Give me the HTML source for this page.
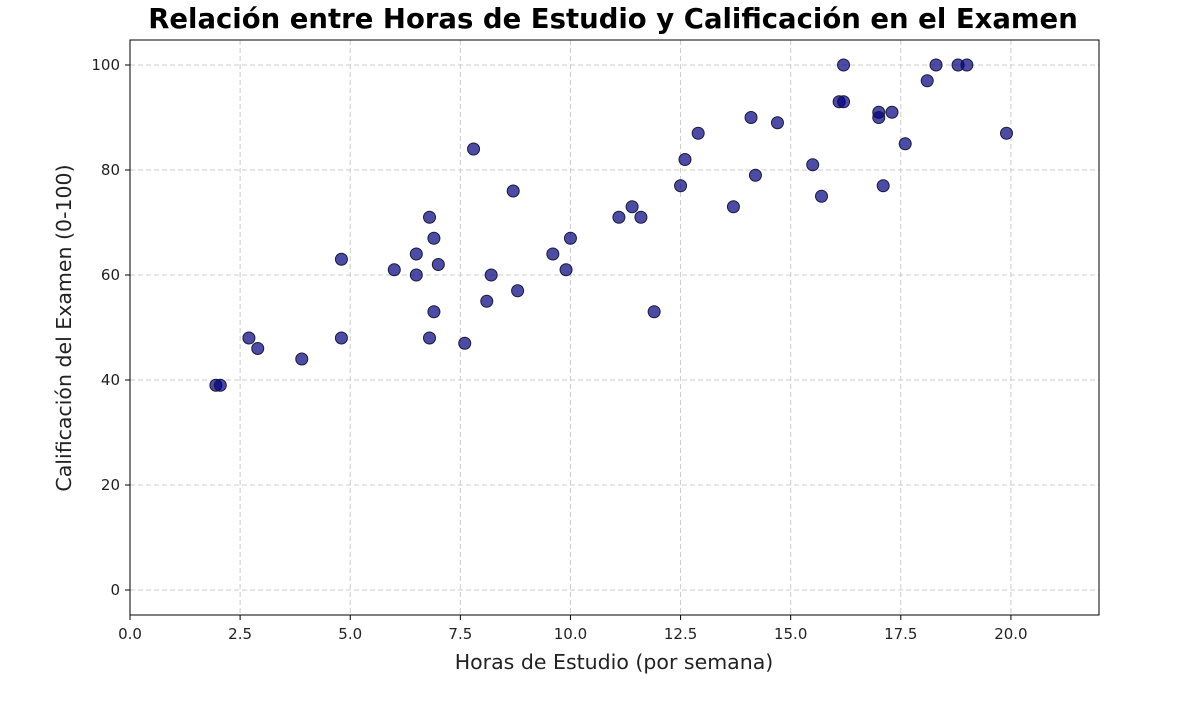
<!DOCTYPE html>
<html><head><meta charset="utf-8"><style>
body{margin:0;background:#fff;width:1186px;height:697px;overflow:hidden}
text{font-family:"DejaVu Sans","Liberation Sans",sans-serif;fill:#222}
</style></head><body>
<svg id="chart" width="1186" height="697" xmlns="http://www.w3.org/2000/svg">
<text x="613" y="28" text-anchor="middle" font-size="27.5" font-weight="bold" style="fill:#000">Relación entre Horas de Estudio y Calificación en el Examen</text>
<g id="grid"></g><g id="points"></g><g id="ticks"></g>
<rect x="130" y="40" width="969" height="575" fill="none" stroke="#000" stroke-width="1"/>
<text x="614" y="669" text-anchor="middle" font-size="20.5">Horas de Estudio (por semana)</text>
<text transform="translate(71,328) rotate(-90)" text-anchor="middle" font-size="20.5">Calificación del Examen (0-100)</text>
</svg>
<script>
const hours=[1.95,2.05,2.7,2.9,3.9,4.8,4.8,6.0,6.5,6.5,6.8,6.9,7.0,6.9,6.8,7.6,7.8,8.1,8.2,8.7,8.8,9.6,9.9,10.0,11.1,11.4,11.6,11.9,12.5,12.6,12.9,13.7,14.1,14.2,14.7,15.5,15.7,16.1,16.2,16.2,17.0,17.0,17.1,17.3,17.6,18.1,18.3,18.8,19.0,19.9];
const scores=[39,39,48,46,44,63,48,61,64,60,71,67,62,53,48,47,84,55,60,76,57,64,61,67,71,73,71,53,77,82,87,73,90,79,89,81,75,93,93,100,91,90,77,91,85,97,100,100,100,87];
const xTicks=[0,2.5,5,7.5,10,12.5,15,17.5,20];
const yTicks=[0,20,40,60,80,100];
const NS="http://www.w3.org/2000/svg";
const X0=130,X1=1099,Y0=615,Y1=40,xmin=0,xmax=22,ymin=-4.76,ymax=104.76;
const sx=v=>X0+(v-xmin)/(xmax-xmin)*(X1-X0);
const sy=v=>Y0-(v-ymin)/(ymax-ymin)*(Y0-Y1);
const mk=(t,a)=>{const e=document.createElementNS(NS,t);for(const k in a)e.setAttribute(k,a[k]);return e;};
const grid=document.getElementById('grid'),ticks=document.getElementById('ticks'),pts=document.getElementById('points');
xTicks.forEach(v=>{const x=sx(v);
 const g=mk('line',{x1:x,x2:x,y1:Y1,y2:Y0,stroke:'#ccc','stroke-dasharray':'5,3'});
 
 grid.appendChild(g);
 const t=mk('line',{x1:x,x2:x,y1:Y0,y2:Y0+5,stroke:'#000'});
 
 ticks.appendChild(t);
 const l=mk('text',{x:x,y:Y0+24,'text-anchor':'middle','font-size':'15'});l.textContent=v.toFixed(1);
 
 ticks.appendChild(l);});
yTicks.forEach(v=>{const y=sy(v);
 const g=mk('line',{x1:X0,x2:X1,y1:y,y2:y,stroke:'#ccc','stroke-dasharray':'5,3'});
 
 grid.appendChild(g);
 const t=mk('line',{x1:X0-5,x2:X0,y1:y,y2:y,stroke:'#000'});
 
 ticks.appendChild(t);
 const l=mk('text',{x:X0-10,y:y+5,'text-anchor':'end','font-size':'15'});l.textContent=v;
 
 ticks.appendChild(l);});
hours.forEach((h,i)=>{
 const c=mk('circle',{cx:sx(h),cy:sy(scores[i]),r:6,fill:'rgba(0,0,128,0.7)',stroke:'#1a1a3a','stroke-width':'1'});
 
 pts.appendChild(c);});
</script>
</body></html>
